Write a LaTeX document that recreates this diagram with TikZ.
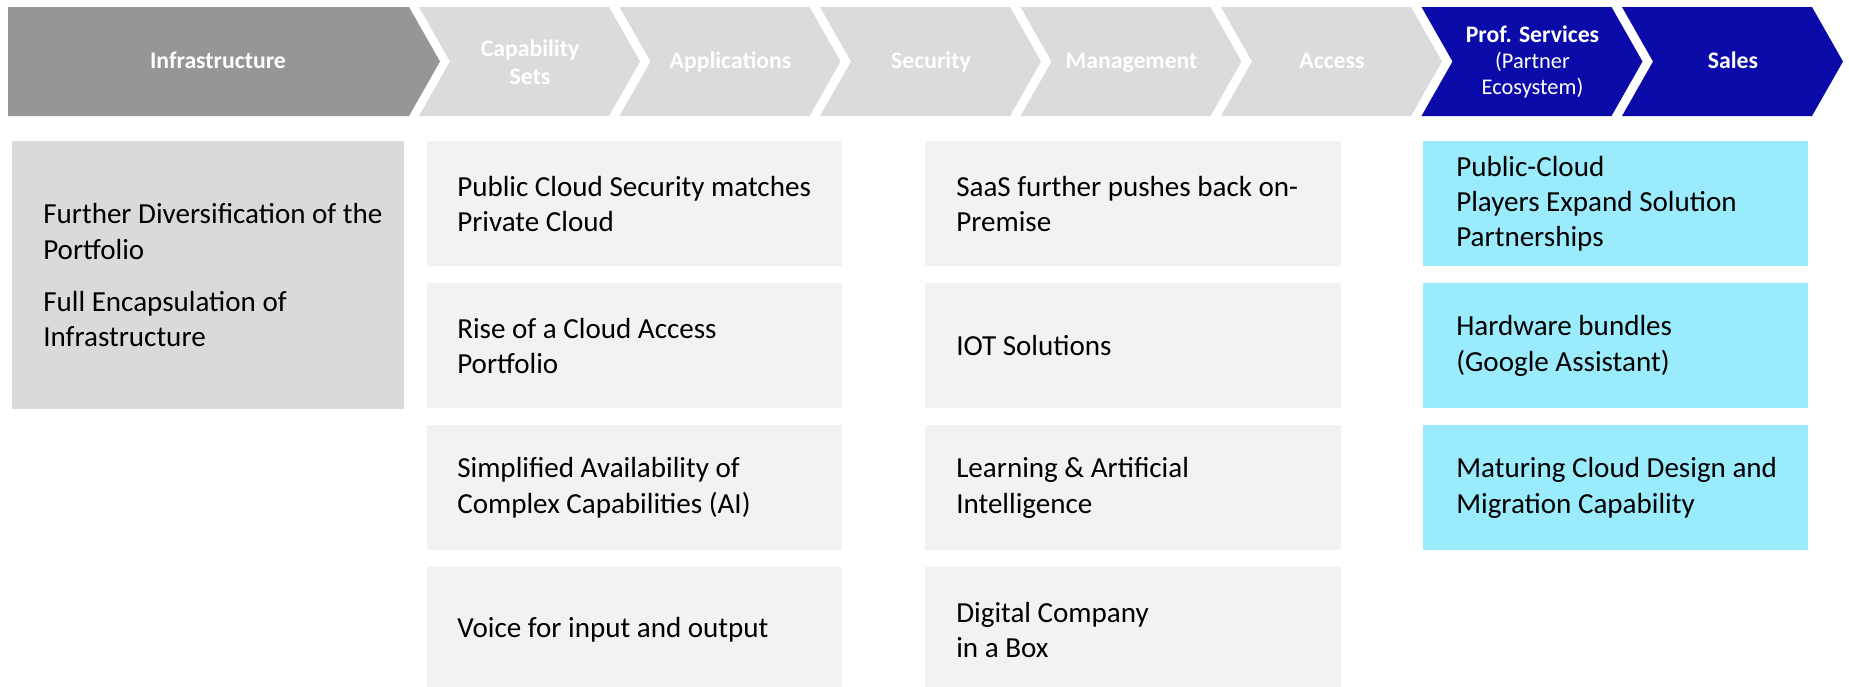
\documentclass[tikz,border=0pt]{standalone}
\usepackage{fontspec}
\setmainfont{Carlito}
\definecolor{infragray}{HTML}{969696}
\definecolor{chevgray}{HTML}{DBDBDB}
\definecolor{navyblue}{HTML}{0B0BA9}
\definecolor{infrabox}{HTML}{DADADA}
\definecolor{lightbox}{HTML}{F2F2F2}
\definecolor{cyanbox}{HTML}{9AEBFC}
\newcommand\bodyfont{\fontsize{21.8pt}{26.5pt}\selectfont}
\newcommand\headfont{\fontsize{17.8pt}{21pt}\selectfont\bfseries}
\newcommand\subheadfont{\fontsize{16.8pt}{19.5pt}\selectfont\mdseries}
\newcommand\chevpath[2]{\fill[#2] (#1,7) -- ++(190,0) -- ++(31,54.5) -- ++(-31,54.5) -- ++(-190,0) -- ++(31,-54.5) -- cycle;}
\begin{document}
\begin{tikzpicture}[x=0.75pt,y=-0.75pt,
  htext/.style={text=white, font=\headfont, align=center, inner sep=0pt},
  hone/.style={htext, anchor=base},
  boxshape/.style={rectangle, inner sep=0pt, anchor=north west, minimum height=93.75pt},
  colA/.style={boxshape, fill=lightbox, minimum width=311.25pt},
  colB/.style={boxshape, fill=lightbox, minimum width=312pt},
  colC/.style={boxshape, fill=cyanbox, minimum width=288.75pt},
  lbl/.style={anchor=west, align=left, inner sep=0pt, font=\bodyfont, text=black}]
\useasboundingbox (0,0) rectangle (1849,686);

% header chevrons
\fill[infragray] (8,7) -- (409,7) -- (440,61.5) -- (409,116) -- (8,116) -- cycle;
\chevpath{419}{chevgray}
\chevpath{619.5}{chevgray}
\chevpath{820}{chevgray}
\chevpath{1020.5}{chevgray}
\chevpath{1221}{chevgray}
\chevpath{1421.5}{navyblue}
\chevpath{1622}{navyblue}

\node[hone] (h1) at (218,68) {Infrastructure};
\node[htext] (h2) at (530,62) {Capability\\Sets};
\node[hone] (h3) at (730.5,68) {Applications};
\node[hone] (h4) at (931,68) {Security};
\node[hone] (h5) at (1131.5,68) {Management};
\node[hone] (h6) at (1332,68) {Access};
\node[htext] (h7) at (1532.5,62) {Prof. Services\\[-1.5pt]{\subheadfont (Partner}\\[-1.5pt]{\subheadfont Ecosystem)}};
\node[hone] (h8) at (1733,68) {Sales};

% infrastructure box
\node[boxshape, fill=infrabox, minimum width=294pt, minimum height=201pt] (b1) at (12,141) {};
\node[lbl] (t1) at ([xshift=23.25pt]b1.west) {Further Diversification of the\\Portfolio\\[12.75pt]Full Encapsulation of\\Infrastructure};

% column 2
\node[colA] (b21) at (427,141) {};
\node[colA] (b22) at (427,283) {};
\node[colA] (b23) at (427,425) {};
\node[colA] (b24) at (427,567) {};
\node[lbl] (t21) at ([xshift=22.5pt]b21.west) {Public Cloud Security matches\\Private Cloud};
\node[lbl] (t22) at ([xshift=22.5pt]b22.west) {Rise of a Cloud Access\\Portfolio};
\node[lbl] (t23) at ([xshift=22.5pt]b23.west) {Simplified Availability of\\Complex Capabilities (AI)};
\node[lbl] (t24) at ([xshift=22.5pt]b24.west) {Voice for input and output};

% column 3
\node[colB] (b31) at (925,141) {};
\node[colB] (b32) at (925,283) {};
\node[colB] (b33) at (925,425) {};
\node[colB] (b34) at (925,567) {};
\node[lbl] (t31) at ([xshift=23.25pt]b31.west) {SaaS further pushes back on-\\Premise};
\node[lbl] (t32) at ([xshift=23.25pt]b32.west) {IOT Solutions};
\node[lbl] (t33) at ([xshift=23.25pt]b33.west) {Learning \& Artificial\\Intelligence};
\node[lbl] (t34) at ([xshift=23.25pt]b34.west) {Digital Company\\in a Box};

% column 4
\node[colC] (b41) at (1423,141) {};
\node[colC] (b42) at (1423,283) {};
\node[colC] (b43) at (1423,425) {};
\node[lbl] (t41) at ([xshift=24.75pt]b41.west) {Public-Cloud\\Players Expand Solution\\Partnerships};
\node[lbl] (t42) at ([xshift=24.75pt]b42.west) {Hardware bundles\\(Google Assistant)};
\node[lbl] (t43) at ([xshift=24.75pt]b43.west) {Maturing Cloud Design and\\Migration Capability};
\end{tikzpicture}
\end{document}
